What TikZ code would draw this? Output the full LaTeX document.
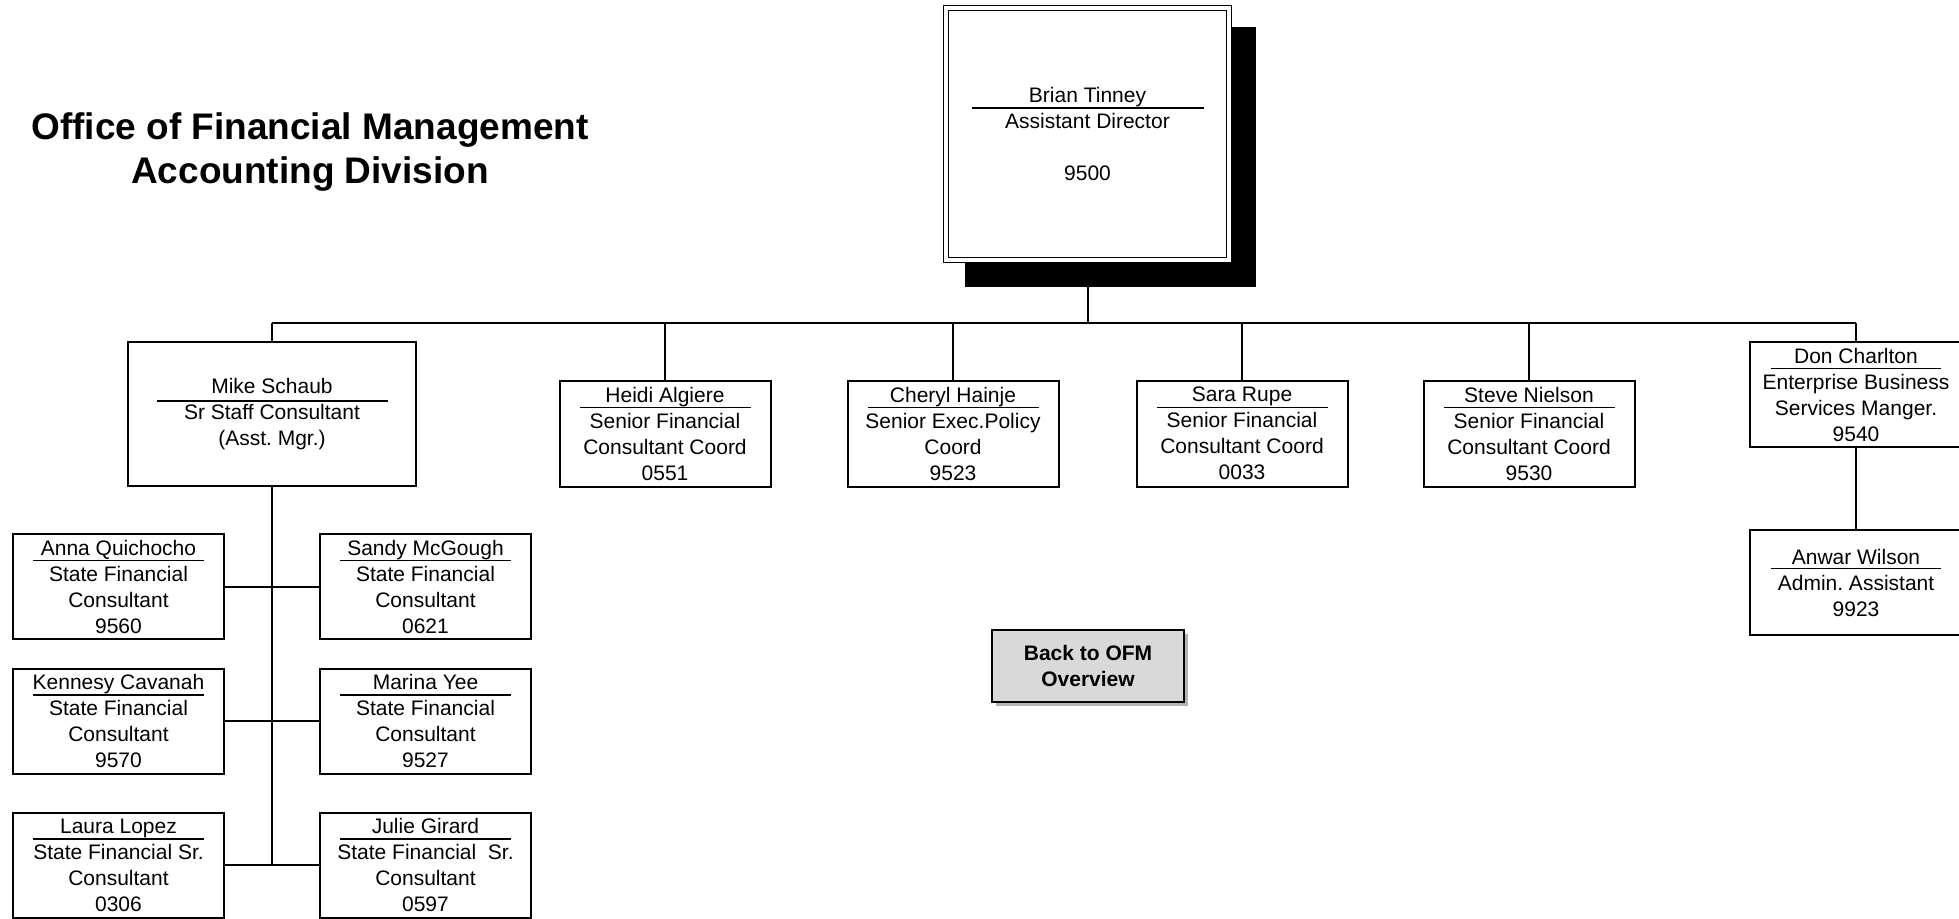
\documentclass[tikz,border=0pt]{standalone}
\usepackage{fontspec}
\setmainfont{Liberation Sans}
\frenchspacing
\usetikzlibrary{shadows}
\pgfdeclarelayer{bg}
\pgfsetlayers{bg,main}
\newcommand\boxfont{\fontsize{21}{26}\selectfont}
\newcommand\nameline[3]{\draw[uline] ([xshift=-#2pt,yshift=#3pt]#1.center) -- ([xshift=#2pt,yshift=#3pt]#1.center);}
\tikzset{
  pbox/.style={draw, line width=2pt, fill=white, inner sep=0pt, align=center,
    font=\boxfont, minimum width=211pt, minimum height=106pt},
  topbox/.style={pbox, double, double distance=3.5pt, line width=1.6pt,
    minimum width=283pt, minimum height=252pt},
  backbtn/.style={draw, line width=2pt, fill={rgb,255:red,217;green,217;blue,217},
    inner sep=0pt, align=center, font=\fontsize{21}{26}\selectfont\bfseries,
    minimum width=192pt, minimum height=72pt,
    drop shadow={shadow xshift=4pt, shadow yshift=-4pt, fill=black!50, opacity=.6}},
  titletext/.style={align=center, font=\fontsize{37}{44}\selectfont\bfseries, inner sep=0pt},
  uline/.style={line width=1.6pt},
  conn/.style={line width=2pt},
  shadowbox/.style={fill=black},
}
\begin{document}
\begin{tikzpicture}[x=1pt,y=-1pt]
\useasboundingbox (0,0) rectangle (1959,918);

% title
\node[titletext] (title) at (310,152) {Office of Financial Management\\Accounting Division};

% top box with shadow
\fill[shadowbox] (965,27) rectangle (1256,287);
\node[topbox] (tin) at (1087.5,134) {Brian Tinney\\Assistant Director\\[26pt]9500};
\nameline{tin}{116}{26}

% second level
\node[pbox, minimum width=288pt, minimum height=144pt] (schaub) at (272,414)
  {Mike Schaub\\Sr Staff Consultant\\(Asst. Mgr.)};
\nameline{schaub}{115.5}{13}

\node[pbox] (heidi) at (665,433.5) {Heidi Algiere\\Senior Financial\\Consultant Coord\\0551};
\nameline{heidi}{85.5}{26}
\node[pbox] (cheryl) at (953,433.5) {Cheryl Hainje\\Senior Exec.Policy\\Coord\\9523};
\nameline{cheryl}{85.5}{26}
\node[pbox] (sara) at (1242,433.5) {Sara Rupe\\Senior Financial\\Consultant Coord\\0033};
\nameline{sara}{85.5}{26}
\node[pbox] (steve) at (1529,433.5) {Steve Nielson\\Senior Financial\\Consultant Coord\\9530};
\nameline{steve}{85.5}{26}

\node[pbox, minimum width=212pt, minimum height=105pt] (don) at (1856,394.5)
  {Don Charlton\\Enterprise Business\\Services Manger.\\9540};
\nameline{don}{85}{26}
\node[pbox, minimum width=212pt, minimum height=105pt] (anwar) at (1856,582.5)
  {Anwar Wilson\\Admin. Assistant\\9923};
\nameline{anwar}{85}{14}

% Mike's group
\node[pbox, minimum height=105pt] (anna) at (118.5,586.5) {Anna Quichocho\\State Financial\\Consultant\\9560};
\nameline{anna}{85.5}{26}
\node[pbox, minimum height=105pt] (sandy) at (425.5,586.5) {Sandy McGough\\State Financial\\Consultant\\0621};
\nameline{sandy}{85.5}{26}
\node[pbox, minimum height=105pt] (kennesy) at (118.5,721) {Kennesy Cavanah\\State Financial\\Consultant\\9570};
\nameline{kennesy}{85.5}{26}
\node[pbox, minimum height=105pt] (marina) at (425.5,721) {Marina Yee\\State Financial\\Consultant\\9527};
\nameline{marina}{85.5}{26}
\node[pbox, minimum height=105pt] (laura) at (118.5,865) {Laura Lopez\\State Financial Sr.\\Consultant\\0306};
\nameline{laura}{85.5}{26}
\node[pbox, minimum height=105pt] (julie) at (425.5,865) {Julie Girard\\State Financial\ \ Sr.\\Consultant\\0597};
\nameline{julie}{85.5}{26}

% back button
\node[backbtn] (back) at (1088,666) {Back to OFM\\Overview};

% connectors (behind the boxes and the shadow)
\coordinate (busL) at (272,323);
\coordinate (busR) at (1856,323);
\begin{pgfonlayer}{bg}
\draw[conn] (tin.south) -- (tin.south |- busL);
\draw[conn] (busL) -- (busR);
\foreach \n in {schaub,heidi,cheryl,sara,steve,don}
  \draw[conn] (\n.north) -- (\n.north |- busL);
\draw[conn] (schaub.south) -- (schaub.south |- laura.east);
\draw[conn] (anna.east) -- (sandy.west);
\draw[conn] (kennesy.east) -- (marina.west);
\draw[conn] (laura.east) -- (julie.west);
\draw[conn] (don.south) -- (anwar.north);
\end{pgfonlayer}
\end{tikzpicture}
\end{document}
